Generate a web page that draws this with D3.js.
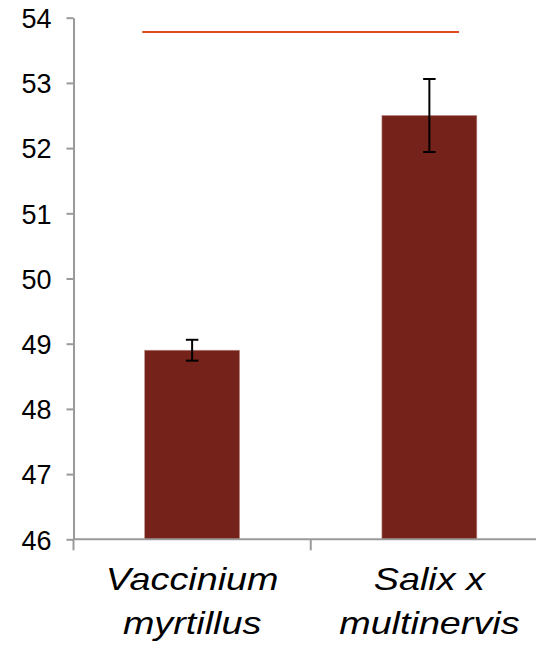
<!DOCTYPE html>
<html>
<head>
<meta charset="utf-8">
<script src="https://cdn.jsdelivr.net/npm/d3@7"></script>
<style>
  html, body { margin: 0; padding: 0; background: #fff; }
  svg { display: block; }
</style>
</head>
<body>
<svg id="chart" width="536" height="649"></svg>
<script>
// Species (each name broken over two lines) and their mean values
const categories = ["Vaccinium myrtillus", "Salix x multinervis"];
const labelLines = [["Vaccinium", "myrtillus"], ["Salix x", "multinervis"]];
const means = [48.9, 52.5];
const errors = [0.16, 0.56];

// Y axis ticks
const yTicks = [46, 47, 48, 49, 50, 51, 52, 53, 54];

// Reference line: level and horizontal span in category units
const refLevel = 53.78;
const refSpan = [0.29, 1.625];

const svg = d3.select("#chart");

const plot = { left: 73.5, right: 548, top: 17.7, bottom: 539.3 };

const y = d3.scaleLinear().domain([46, 54]).range([plot.bottom, plot.top]);
const x = d3.scaleBand().domain(categories).range([plot.left, plot.right]).padding(0);
const bw = x.bandwidth();
const xUnit = d3.scaleLinear().domain([0, categories.length]).range([plot.left, plot.right]);

const axisColor = "#9a9a9a";
const fontFamily = "'Liberation Sans', Arial, sans-serif";

// Bars
const barW = bw * 0.4;
svg.append("g").selectAll("rect")
  .data(categories)
  .join("rect")
  .attr("x", d => x(d) + (bw - barW) / 2)
  .attr("y", (d, i) => y(means[i]))
  .attr("width", barW)
  .attr("height", (d, i) => y(46) - y(means[i]))
  .attr("fill", "#75221a")
  .attr("stroke", "#b98a85")
  .attr("stroke-width", 0.6);

// Y axis
const yAxis = svg.append("g")
  .attr("transform", `translate(${plot.left},0)`)
  .call(d3.axisLeft(y).tickValues(yTicks).tickFormat(d3.format("d")).tickSize(7).tickPadding(15).tickSizeOuter(0));
yAxis.select(".domain").attr("stroke", axisColor).attr("stroke-width", 2);
yAxis.selectAll(".tick line").attr("stroke", axisColor).attr("stroke-width", 2);
yAxis.selectAll(".tick text")
  .attr("fill", "#000")
  .style("font-family", fontFamily)
  .style("font-size", "27px")
  .attr("dy", "0.36em");

// X axis line and category-boundary ticks
const xg = svg.append("g");
xg.append("line")
  .attr("x1", plot.left).attr("x2", plot.right)
  .attr("y1", y(46)).attr("y2", y(46))
  .attr("stroke", axisColor).attr("stroke-width", 2);
xg.selectAll("line.tick")
  .data(d3.range(categories.length + 1))
  .join("line")
  .attr("class", "tick")
  .attr("x1", i => xUnit(i)).attr("x2", i => xUnit(i))
  .attr("y1", y(46)).attr("y2", y(46) + 11)
  .attr("stroke", axisColor).attr("stroke-width", 2);

// Category labels (italic, two lines, set slightly wide)
const lab = svg.append("g")
  .style("font-family", fontFamily)
  .style("font-style", "italic")
  .style("font-size", "32px")
  .attr("text-anchor", "middle")
  .attr("fill", "#000");
categories.forEach((c, i) => {
  const t = lab.append("text")
    .attr("transform", `translate(${x(c) + bw / 2},0) scale(1.18,1)`)
    .attr("x", 0)
    .attr("y", 590.5);
  labelLines[i].forEach((ln, k) => {
    t.append("tspan")
      .attr("x", 0)
      .attr("dy", k === 0 ? 0 : 43.5)
      .text(ln);
  });
});

// Error bars
const capW = 12.5;
const eg = svg.append("g").attr("stroke", "#000").attr("stroke-width", 2);
categories.forEach((c, i) => {
  const cx = x(c) + bw / 2;
  const hi = y(means[i] + errors[i]);
  const lo = y(means[i] - errors[i]);
  eg.append("line").attr("x1", cx).attr("x2", cx).attr("y1", hi).attr("y2", lo);
  eg.append("line").attr("x1", cx - capW / 2).attr("x2", cx + capW / 2).attr("y1", hi).attr("y2", hi);
  eg.append("line").attr("x1", cx - capW / 2).attr("x2", cx + capW / 2).attr("y1", lo).attr("y2", lo);
});

// Horizontal reference line
svg.append("line")
  .attr("x1", xUnit(refSpan[0])).attr("x2", xUnit(refSpan[1]))
  .attr("y1", y(refLevel)).attr("y2", y(refLevel))
  .attr("stroke", "#e04a1e")
  .attr("stroke-width", 2);
</script>
</body>
</html>
